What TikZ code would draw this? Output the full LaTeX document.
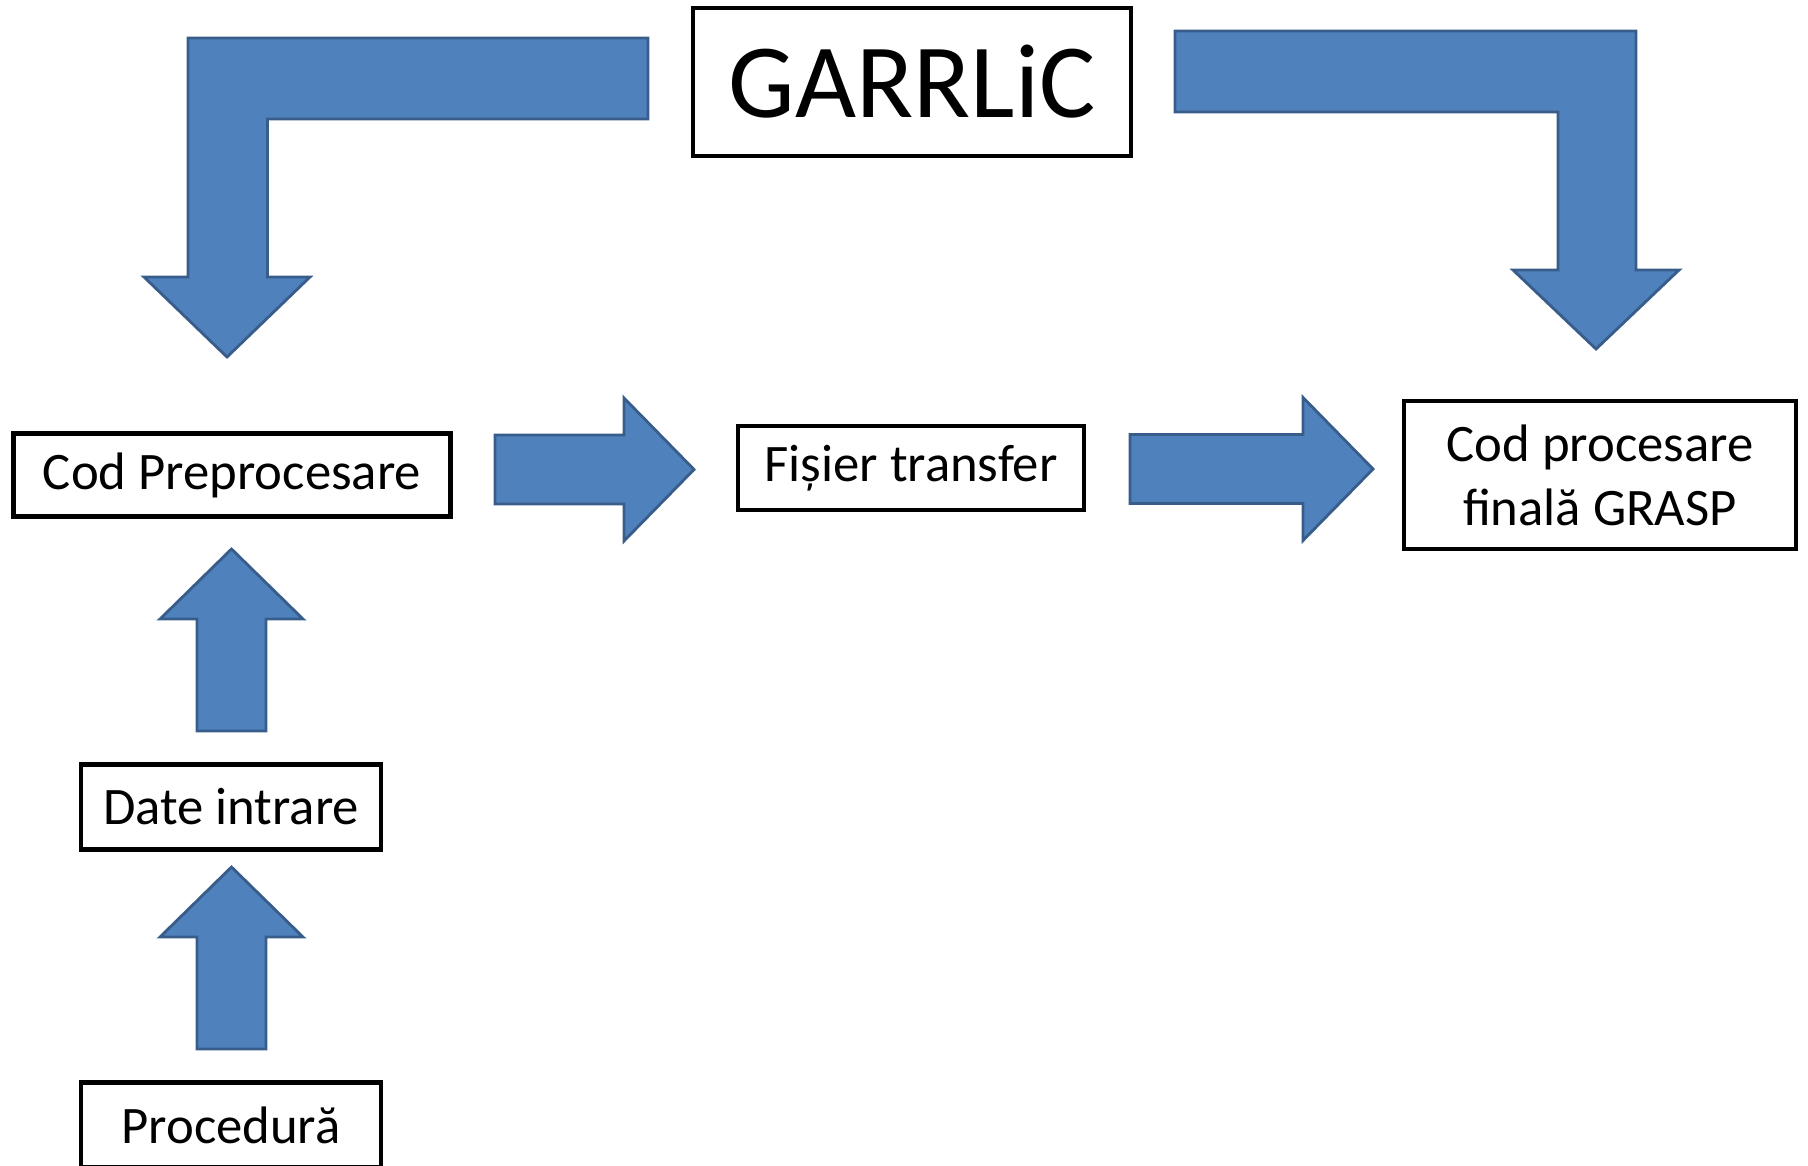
\documentclass[tikz,border=0pt]{standalone}
\usepackage{fontspec}
\setmainfont{Carlito}
\usepackage{tikz}
\usetikzlibrary{calc}
\definecolor{arrfill}{HTML}{4F81BD}
\definecolor{arrline}{HTML}{385D8A}
\tikzset{
  stepbox/.style  ={draw=black, fill=white, line width=1.3pt, inner sep=0pt,
                    align=center, font=\fontsize{15}{18.2}\selectfont},
  titlebox/.style ={stepbox, font=\fontsize{30}{36}\selectfont},
  blockarr/.style ={draw=arrline, fill=arrfill, line width=0.8pt},
}
% straight block arrow from #1 to the tip #2
\newcommand{\blockarrow}[2]{%
  \coordinate (hb) at ($(#2)!0.70cm!(#1)$);
  \draw[blockarr] ($(#1)!0.345cm!90:(#2)$) -- ($(hb)!0.345cm!90:(#2)$)
    -- ($(hb)!0.715cm!90:(#2)$) -- (#2) -- ($(hb)!0.715cm!-90:(#2)$)
    -- ($(hb)!0.345cm!-90:(#2)$) -- ($(#1)!0.345cm!-90:(#2)$) -- cycle;
}

\begin{document}
\begin{tikzpicture}[x=1cm,y=1cm]
    \useasboundingbox (0,0) rectangle (18.08,11.65);
    \clip (0,0) rectangle (18.08,11.65);

    % boxes
    \node[titlebox,minimum width=4.38cm,minimum height=1.48cm] (garr)  at ( 9.12,10.83) {GARRLiC};
    \node[stepbox, minimum width=4.37cm,minimum height=0.83cm] (pre)   at ( 2.32, 6.90) {Cod Preprocesare};
    \node[stepbox, minimum width=3.46cm,minimum height=0.84cm] (fis)   at ( 9.11, 6.97) {Fișier transfer};
    \node[stepbox, minimum width=3.92cm,minimum height=1.48cm] (grasp) at (16.00, 6.90) {Cod procesare\\finală GRASP};
    \node[stepbox, minimum width=3.00cm,minimum height=0.85cm] (dat)   at ( 2.31, 3.58) {Date intrare};
    \node[stepbox, minimum width=3.00cm,minimum height=0.85cm] (proc)  at ( 2.31, 0.40) {Procedură};

    % ends of the block arrows
    \coordinate (a1s) at ( 4.95, 6.955);  \coordinate (a1t) at ( 6.94, 6.955);
    \coordinate (a2s) at (11.30, 6.96);   \coordinate (a2t) at (13.73, 6.96);
    \coordinate (u1s) at ( 2.315,4.34);   \coordinate (u1t) at ( 2.315,6.16);
    \coordinate (u2s) at ( 2.315,1.16);   \coordinate (u2t) at ( 2.315,2.98);

    \blockarrow{a1s}{a1t}
    \blockarrow{a2s}{a2t}
    \blockarrow{u1s}{u1t}
    \blockarrow{u2s}{u2t}

    % bent arrows out of GARRLiC
    \draw[blockarr] (6.48,11.27) -- (1.88,11.27) -- (1.88,8.88) -- (1.44,8.88) -- (2.27,8.08)
      -- (3.10,8.88) -- (2.675,8.88) -- (2.675,10.46) -- (6.48,10.46) -- cycle;
    \draw[blockarr] (11.75,11.34) -- (16.36,11.34) -- (16.36,8.95) -- (16.79,8.95) -- (15.96,8.16)
      -- (15.13,8.95) -- (15.58,8.95) -- (15.58,10.53) -- (11.75,10.53) -- cycle;
\end{tikzpicture}
\end{document}
